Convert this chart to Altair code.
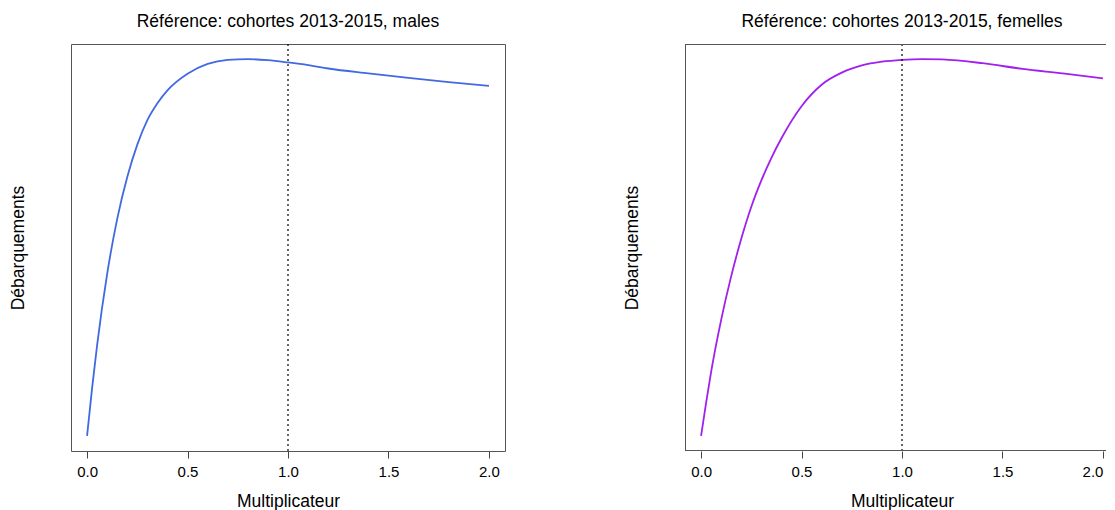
import altair as alt
import pandas as pd

multiplier = [0, 0.025, 0.05, 0.1, 0.15, 0.2, 0.25, 0.3, 0.35, 0.4, 0.5, 0.6, 0.7, 0.8, 0.9, 1.0, 1.1, 1.2, 1.4, 1.6, 1.8, 2.0]
landings_males = [0, 12.7, 24.1, 43.0, 57.6, 68.7, 77.3, 83.8, 88.3, 91.7, 96.1, 98.7, 99.8, 100, 99.7, 99.1, 98.4, 97.5, 96.2, 95.0, 93.9, 92.9]
landings_females = [0, 8.8, 17.0, 30.8, 42.4, 52.3, 60.8, 67.8, 73.8, 79.0, 87.5, 93.2, 96.4, 98.3, 99.3, 99.8, 100, 99.9, 98.9, 97.4, 96.2, 94.9]
x_ticks = [0.0, 0.5, 1.0, 1.5, 2.0]
reference_x = [1.0]

titles = ["Référence: cohortes 2013-2015, males", "Référence: cohortes 2013-2015, femelles"]
colors = ["#4169E1", "#A020F0"]
FONT = "Liberation Sans"
FRAME = "#555"
H = 407
W_FULL = 434
X_MIN, X_MAX = -0.08, 2.08


def panel(values, title, color, width, clipped):
    df = pd.DataFrame({"Multiplicateur": multiplier, "Debarquements": values})
    lo, hi = min(values), max(values)
    pad = 0.04 * (hi - lo)
    x_max = X_MIN + (X_MAX - X_MIN) * width / W_FULL
    xs = alt.Scale(domain=[X_MIN, x_max], nice=False, zero=False)
    ys = alt.Scale(domain=[lo - pad, hi + pad], nice=False, zero=False)
    x_axis = dict(title="Multiplicateur", values=x_ticks, format=".1f",
                  grid=False, domain=False, tickColor="#444", tickSize=7,
                  labelFontSize=15, labelFont=FONT, labelColor="#000",
                  labelPadding=6, titleFontSize=17.5, titleFont=FONT,
                  titleFontWeight="normal", titleColor="#000", titlePadding=13,
                  titleX=W_FULL / 2)
    if clipped:
        x_axis["labelFlush"] = 6
    line = alt.Chart(df).mark_line(color=color, strokeWidth=1.8, interpolate="monotone", clip=True).encode(
        x=alt.X("Multiplicateur:Q", scale=xs, axis=alt.Axis(**x_axis)),
        y=alt.Y("Debarquements:Q", scale=ys,
                axis=alt.Axis(title="Débarquements", ticks=False, labels=False, grid=False,
                              domain=False, titleFontSize=17.5, titleFont=FONT,
                              titleFontWeight="normal", titleColor="#000", titlePadding=44)),
    )
    ref = alt.Chart(pd.DataFrame({"x": reference_x})).mark_rule(
        color="#000", strokeDash=[2, 3], strokeWidth=1.2
    ).encode(x=alt.X("x:Q", scale=xs))
    layers = [line, ref]
    if clipped:
        frame_src = pd.DataFrame({"side": ["frame"]})
        top = alt.Chart(frame_src).mark_rule(color=FRAME, strokeWidth=1).encode(
            x=alt.value(0), x2=alt.value(width), y=alt.value(0.5))
        bottom = alt.Chart(frame_src).mark_rule(color=FRAME, strokeWidth=1).encode(
            x=alt.value(0), x2=alt.value(width), y=alt.value(H - 0.5))
        left = alt.Chart(frame_src).mark_rule(color=FRAME, strokeWidth=1).encode(
            x=alt.value(0.5), y=alt.value(0), y2=alt.value(H))
        layers += [top, bottom, left]
    props = dict(
        width=width, height=H,
        title=alt.TitleParams(title, fontSize=17.5, font=FONT, fontWeight="normal",
                              color="#000", offset=13, dx=(W_FULL - width) / 2),
    )
    chart = alt.layer(*layers).properties(**props)
    if clipped:
        chart = chart.properties(view=alt.ViewBackground(stroke="transparent", strokeWidth=0))
    return chart


chart = alt.hconcat(
    panel(landings_males, titles[0], colors[0], W_FULL, False),
    panel(landings_females, titles[1], colors[1], 421, True),
    spacing=117,
    padding={"top": 4, "left": 0, "right": 0, "bottom": 0},
    background="white",
).configure_view(stroke=FRAME, strokeWidth=1)

chart.save("out.html", embed_options={"renderer": "svg", "actions": False})
